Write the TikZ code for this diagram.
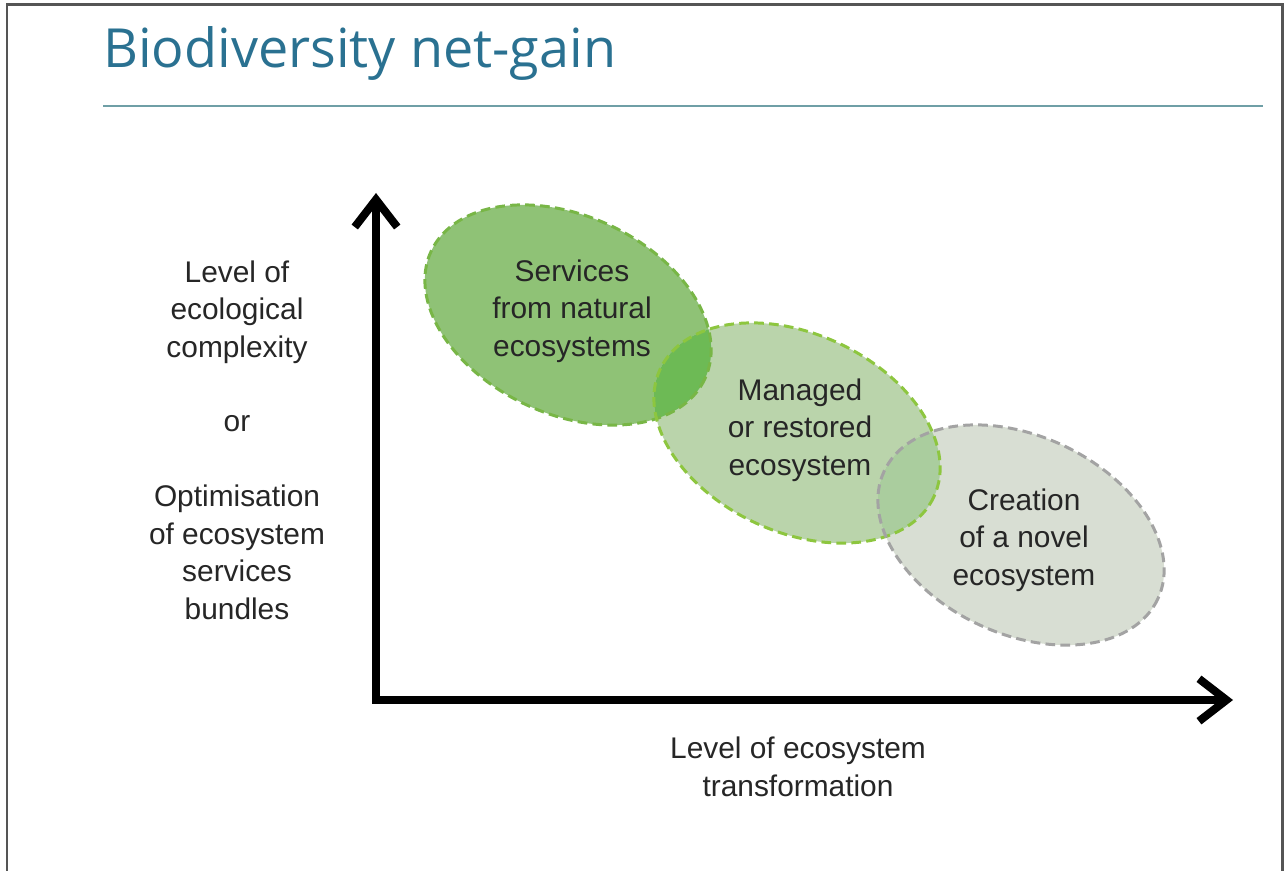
\documentclass[tikz,border=0pt]{standalone}
\usepackage{fontspec}
\setmainfont{Liberation Sans}
\newfontfamily\titlefont{Open Sans}
\usetikzlibrary{arrows.meta}

\definecolor{framegray}{HTML}{555555}
\definecolor{titleblue}{HTML}{2A7191}
\definecolor{rulecol}{HTML}{6F9FA6}
\definecolor{natfill}{HTML}{8FC276}
\definecolor{natline}{HTML}{78B646}
\definecolor{mngfill}{HTML}{BAD4AB}
\definecolor{mngline}{HTML}{8DC63F}
\definecolor{novfill}{HTML}{D8DED3}
\definecolor{novline}{HTML}{A3A3A3}
\definecolor{overlapA}{HTML}{6DBA55}
\definecolor{overlapB}{HTML}{AACD9E}

\tikzset{
  lbl/.style={align=center, text=black!85, inner sep=0pt,
    font=\fontsize{17}{21.3}\selectfont},
  zone/.style={dash pattern=on 5.5pt off 3pt, line width=1.7pt},
  axis/.style={line width=0.16cm,
    {Straight Barb[length=0.55cm,width=0.85cm]}-{Straight Barb[length=0.55cm,width=0.85cm]}},
}

\begin{document}
\begin{tikzpicture}[x=0.02cm,y=-0.02cm]
\useasboundingbox (0,0) rectangle (1288,871);

% frame, title and rule
\draw[framegray, line width=0.06cm] (7,871) -- (7,5) -- (1282,5) -- (1282,871);
\node[anchor=base west, inner sep=0pt, text=titleblue,
  font=\titlefont\fontsize{30.7}{36}\selectfont] (title) at (103,68) {Biodiversity net-gain};
\coordinate (ruleL) at (103,106);
\coordinate (ruleR) at (1263,106);
\draw[rulecol, line width=0.05cm] (ruleL) -- (ruleR);

% zones
\coordinate (c1) at (568,315);
\coordinate (c2) at (797,433);
\coordinate (c3) at (1021,535);
\fill[natfill, rotate around={-25:(c1)}] (c1) ellipse [x radius=151, y radius=99];
\fill[mngfill, rotate around={-25:(c2)}] (c2) ellipse [x radius=151, y radius=99];
\fill[novfill, rotate around={-25:(c3)}] (c3) ellipse [x radius=151, y radius=99];
% overlaps
\begin{scope}
\clip[rotate around={-25:(c1)}] (c1) ellipse [x radius=151, y radius=99];
\fill[overlapA, rotate around={-25:(c2)}] (c2) ellipse [x radius=151, y radius=99];
\end{scope}
\begin{scope}
\clip[rotate around={-25:(c2)}] (c2) ellipse [x radius=151, y radius=99];
\fill[overlapB, rotate around={-25:(c3)}] (c3) ellipse [x radius=151, y radius=99];
\end{scope}
\draw[zone, natline, rotate around={-25:(c1)}] (c1) ellipse [x radius=151, y radius=99];
\draw[zone, mngline, rotate around={-25:(c2)}] (c2) ellipse [x radius=151, y radius=99];
\draw[zone, novline, rotate around={-25:(c3)}] (c3) ellipse [x radius=151, y radius=99];

\node[lbl] (natural) at (572,311) {Services\\from natural\\ecosystems};
\node[lbl] (managed) at (800,430) {Managed\\or restored\\ecosystem};
\node[lbl] (novel) at (1024,540) {Creation\\of a novel\\ecosystem};

% axes
\coordinate (O) at (376,700);
\coordinate (ytip) at (376,193);
\coordinate (xtip) at (1233,700);
\draw[axis] (ytip) -- (O) -- (xtip);

\node[lbl] (ylabel) at (237,440) {Level of\\ecological\\complexity\\[21.3pt]or\\[21.3pt]Optimisation\\of ecosystem\\services\\bundles};
\node[lbl] (xlabel) at (798,767) {Level of ecosystem\\transformation};
\end{tikzpicture}
\end{document}
